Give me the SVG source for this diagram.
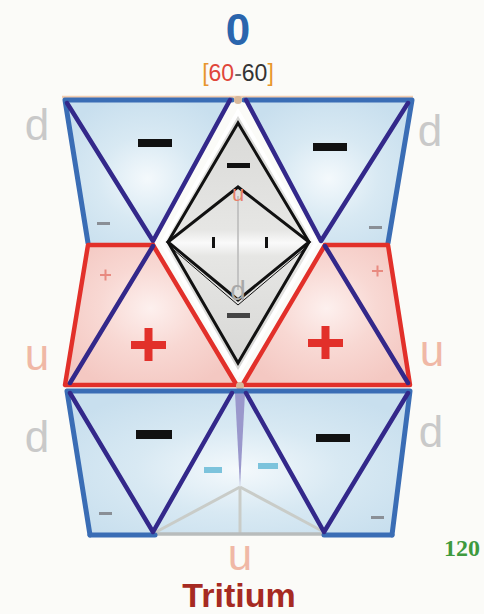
<svg xmlns="http://www.w3.org/2000/svg" width="484" height="614" viewBox="0 0 484 614">
<style>
.pur{stroke:#33288a;stroke-width:4.5;fill:none;stroke-linejoin:round;stroke-linecap:round}
.red{stroke:#e2302a;stroke-width:4.5;fill:none;stroke-linejoin:round;stroke-linecap:round}
.blu{stroke:#3a6db5;stroke-width:5;fill:none;stroke-linejoin:round;stroke-linecap:round}
.blk{stroke:#111;stroke-width:3;fill:none;stroke-linejoin:miter}
.gry{stroke:#c9ccc8;stroke-width:3;fill:none}
.dash{fill:#111}
.sdash{fill:#8a8f96}
.cdash{fill:#7cc3dc}
.plus{fill:#e2302a}
.splus{fill:#e88a80}
.lbl{font-family:"Liberation Sans",Arial,sans-serif;text-anchor:middle}
.d{fill:#c9c9c9;font-size:44px}
.u{fill:#f0b8a6;font-size:44px}
</style>
<defs>
<radialGradient id="gb" cx="0.5" cy="0.55" r="0.6">
<stop offset="0" stop-color="#f4f9fc"/><stop offset="0.5" stop-color="#d8e9f3"/><stop offset="1" stop-color="#c8dfee"/>
</radialGradient>
<radialGradient id="gp" cx="0.5" cy="0.45" r="0.6">
<stop offset="0" stop-color="#fdf0ee"/><stop offset="0.5" stop-color="#f8d8d3"/><stop offset="1" stop-color="#f4c8c2"/>
</radialGradient>
<linearGradient id="gg" x1="0" y1="0" x2="0" y2="1">
<stop offset="0" stop-color="#d8d8d6"/><stop offset="0.45" stop-color="#e6e6e4"/><stop offset="0.5" stop-color="#fafafa"/><stop offset="0.55" stop-color="#e6e6e4"/><stop offset="1" stop-color="#d6d6d4"/>
</linearGradient>
</defs>
<rect width="484" height="614" fill="#fbfbf8"/>

<g id="title">
<text class="lbl" x="238" y="45" font-size="44" font-weight="bold" fill="#2a65ad">0</text>
<text class="lbl" x="238" y="81" font-size="23" font-family="'Open Sans',sans-serif"><tspan fill="#e8962e">[</tspan><tspan fill="#e0463a">60</tspan><tspan fill="#666">-</tspan><tspan fill="#333">60</tspan><tspan fill="#e8962e">]</tspan></text>
</g>

<g id="top-band">
<line x1="62" y1="97" x2="413" y2="97" stroke="#f2cdb0" stroke-width="2.5"/>
<polygon points="65,100 230,100 153,243 88,243" fill="url(#gb)"/>
<polygon points="245,100 412,100 388,243 322,243" fill="url(#gb)"/>
<polyline class="blu" points="88,243 65,100 232,100"/>
<polyline class="blu" points="244,100 412,100 388,243"/>
<polyline class="pur" points="67,103 153,241 230,100"/>
<polyline class="pur" points="246,100 321,241 408,103"/>
<circle cx="238" cy="100" r="4" fill="#d8b89a"/>
<rect class="dash" x="138" y="139" width="34" height="8"/>
<rect class="dash" x="313" y="143" width="34" height="8"/>
<rect class="sdash" x="97" y="222" width="13" height="3"/>
<rect class="sdash" x="369" y="226" width="13" height="3"/>
</g>

<g id="middle-band">
<polygon points="88,245 153,245 236,386 65,386" fill="url(#gp)"/>
<polygon points="323,245 388,245 410,386 243,386" fill="url(#gp)"/>
<polyline class="red" points="153,245 88,245 65,385 410,385 388,245 325,245"/>
<line class="red" x1="153" y1="245" x2="236" y2="384"/>
<line class="red" x1="325" y1="245" x2="243" y2="384"/>
<line class="pur" x1="153" y1="246" x2="70" y2="383"/>
<line class="pur" x1="325" y1="246" x2="408" y2="383"/>
<circle cx="240" cy="386" r="4" fill="#d8b89a"/>
<rect class="plus" x="131" y="341" width="35" height="8"/>
<rect class="plus" x="144.5" y="328" width="8" height="33"/>
<rect class="plus" x="308" y="339" width="35" height="8"/>
<rect class="plus" x="321.5" y="326" width="8" height="33"/>
<rect class="splus" x="100" y="274" width="11" height="2"/>
<rect class="splus" x="104.5" y="269.5" width="2" height="11"/>
<rect class="splus" x="372" y="270" width="11" height="2"/>
<rect class="splus" x="376.5" y="265.5" width="2" height="11"/>
</g>

<g id="center-diamond">
<polygon points="238,112 162,243 238,374 316,243" fill="url(#gg)" stroke="#ffffff" stroke-width="4"/>
<polygon class="blk" points="238,123 168,242 238,363 309,242"/>
<polygon class="blk" points="238,187 168,242 238,300 309,242"/>
<polyline points="174,250 238,305 303,250" stroke="#111" stroke-width="1" fill="none"/>
<line x1="238" y1="196" x2="238" y2="290" stroke="#b8b8b8" stroke-width="1.5"/>
<rect class="dash" x="227" y="163" width="23" height="5"/>
<rect x="227" y="313" width="23" height="5" fill="#444"/>
<rect class="dash" x="212" y="237" width="3" height="11"/>
<rect class="dash" x="265" y="237" width="3" height="11"/>
<text class="lbl" x="238" y="201" font-size="22" fill="#e8806a">u</text>
<text class="lbl" x="238" y="300" font-size="28" fill="#a8a8a8">d</text>
</g>

<g id="bottom-band">
<polygon points="67,391 410,391 392,535 90,535" fill="url(#gb)"/>
<polygon points="235,393 245,393 240,487" fill="#9a98cc"/>
<line class="gry" x1="240" y1="487" x2="156" y2="532"/>
<line class="gry" x1="240" y1="487" x2="324" y2="532"/>
<line class="gry" x1="240" y1="487" x2="240" y2="533"/>
<line x1="155" y1="534" x2="324" y2="534" stroke="#b8bcbc" stroke-width="3.5"/>
<polyline class="blu" points="90,535 67,391 410,391 392,535"/>
<line class="blu" x1="90" y1="535" x2="155" y2="535"/>
<line class="blu" x1="324" y1="535" x2="392" y2="535"/>
<polyline class="pur" points="70,393 153,532 232,393"/>
<polyline class="pur" points="246,393 324,532 408,393"/>
<rect class="dash" x="136" y="430" width="36" height="9"/>
<rect class="dash" x="316" y="434" width="34" height="8"/>
<rect class="cdash" x="204" y="467" width="18" height="6"/>
<rect class="cdash" x="258" y="463" width="20" height="6"/>
<rect class="sdash" x="99" y="512" width="13" height="3"/>
<rect class="sdash" x="371" y="516" width="13" height="3"/>
</g>

<g id="labels">
<text class="lbl d" x="37" y="140">d</text>
<text class="lbl d" x="430" y="146">d</text>
<text class="lbl u" x="37" y="370">u</text>
<text class="lbl u" x="432" y="366">u</text>
<text class="lbl d" x="37" y="452">d</text>
<text class="lbl d" x="431" y="447">d</text>
<text class="lbl u" x="240" y="570" font-size="40">u</text>
<text class="lbl" x="239" y="607" font-size="34" font-weight="bold" fill="#a62a22">Tritium</text>
<text x="444" y="556" font-family="'Liberation Serif',serif" font-size="24" font-weight="bold" fill="#3e9a3e">120</text>
</g>
</svg>
